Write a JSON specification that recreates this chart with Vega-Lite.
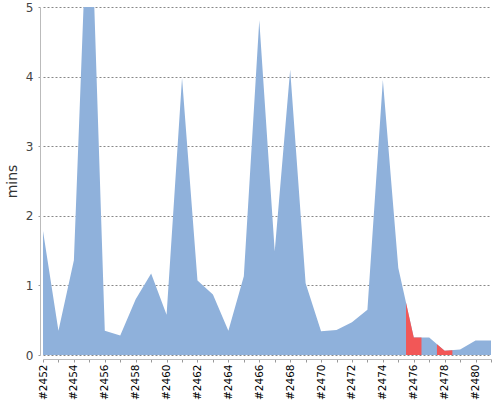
{
  "$schema": "https://vega.github.io/schema/vega-lite/v6.json",
  "width": 448,
  "height": 348,
  "autosize": "none",
  "padding": {"left": 43, "top": 7, "right": 9, "bottom": 45},
  "config": {"view": {"stroke": null}, "font": "DejaVu Sans"},
  "datasets": {
    "builds": [
      {"build": 2452, "mins": 1.78, "status": "success"},
      {"build": 2453, "mins": 0.35, "status": "success"},
      {"build": 2454, "mins": 1.36, "status": "success"},
      {"build": 2455, "mins": 7.2, "status": "success"},
      {"build": 2456, "mins": 0.35, "status": "success"},
      {"build": 2457, "mins": 0.28, "status": "success"},
      {"build": 2458, "mins": 0.8, "status": "success"},
      {"build": 2459, "mins": 1.17, "status": "success"},
      {"build": 2460, "mins": 0.58, "status": "success"},
      {"build": 2461, "mins": 3.98, "status": "success"},
      {"build": 2462, "mins": 1.07, "status": "success"},
      {"build": 2463, "mins": 0.87, "status": "success"},
      {"build": 2464, "mins": 0.35, "status": "success"},
      {"build": 2465, "mins": 1.13, "status": "success"},
      {"build": 2466, "mins": 4.81, "status": "success"},
      {"build": 2467, "mins": 1.49, "status": "success"},
      {"build": 2468, "mins": 4.1, "status": "success"},
      {"build": 2469, "mins": 1.03, "status": "success"},
      {"build": 2470, "mins": 0.34, "status": "success"},
      {"build": 2471, "mins": 0.36, "status": "success"},
      {"build": 2472, "mins": 0.47, "status": "success"},
      {"build": 2473, "mins": 0.65, "status": "success"},
      {"build": 2474, "mins": 3.95, "status": "success"},
      {"build": 2475, "mins": 1.25, "status": "success"},
      {"build": 2476, "mins": 0.25, "status": "failure"},
      {"build": 2477, "mins": 0.25, "status": "success"},
      {"build": 2478, "mins": 0.06, "status": "failure"},
      {"build": 2479, "mins": 0.08, "status": "success"},
      {"build": 2480, "mins": 0.21, "status": "success"},
      {"build": 2481, "mins": 0.21, "status": "success"}
    ],
    "failed": [
      {"build": 2475.5, "mins": 0.75, "run": "#2476"},
      {"build": 2476, "mins": 0.25, "run": "#2476"},
      {"build": 2476.5, "mins": 0.25, "run": "#2476"},
      {"build": 2477.5, "mins": 0.155, "run": "#2478"},
      {"build": 2478, "mins": 0.06, "run": "#2478"},
      {"build": 2478.5, "mins": 0.07, "run": "#2478"}
    ]
  },
  "encoding": {
    "x": {
      "field": "build",
      "type": "quantitative",
      "scale": {"domain": [2452, 2481], "nice": false, "zero": false},
      "axis": {
        "title": null,
        "grid": false,
        "offset": 4,
        "values": [2452, 2453, 2454, 2455, 2456, 2457, 2458, 2459, 2460, 2461, 2462, 2463, 2464, 2465, 2466, 2467, 2468, 2469, 2470, 2471, 2472, 2473, 2474, 2475, 2476, 2477, 2478, 2479, 2480, 2481],
        "labelExpr": "datum.value % 2 == 0 ? '#' + datum.value : ''",
        "labelAngle": -90,
        "labelFontSize": 10.5,
        "labelColor": "#000000",
        "labelPadding": 2,
        "labelFlush": false,
        "labelOverlap": false,
        "tickSize": 3,
        "tickColor": "#999999",
        "domainColor": "#bbbbbb"
      }
    },
    "y": {
      "field": "mins",
      "type": "quantitative",
      "stack": null,
      "scale": {"domain": [0, 5], "nice": false},
      "axis": {
        "title": "mins",
        "titleFontSize": 14,
        "titleFontWeight": "normal",
        "titleColor": "#333333",
        "titlePadding": 6,
        "offset": 3,
        "values": [0, 1, 2, 3, 4, 5],
        "labelFontSize": 12,
        "labelColor": "#444444",
        "labelPadding": 5,
        "tickSize": 2,
        "tickColor": "#999999",
        "domainColor": "#bbbbbb",
        "grid": true,
        "gridColor": "#888888",
        "gridDash": [2, 2],
        "gridOpacity": 1
      }
    }
  },
  "layer": [
    {
      "data": {"name": "builds"},
      "mark": {"type": "area", "color": "#8fb1db", "opacity": 1, "clip": true, "interpolate": "linear"}
    },
    {
      "data": {"name": "failed"},
      "mark": {"type": "area", "color": "#f25757", "opacity": 1, "clip": true},
      "encoding": {"detail": {"field": "run", "type": "nominal"}}
    }
  ]
}
